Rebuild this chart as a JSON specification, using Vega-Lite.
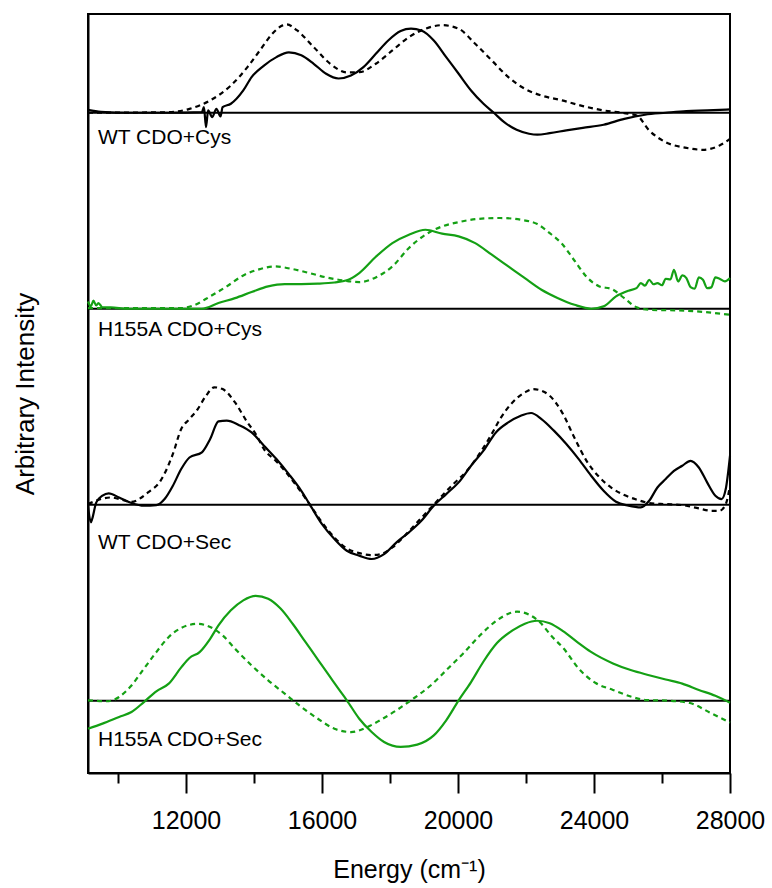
{
  "$schema": "https://vega.github.io/schema/vega-lite/v6.json",
  "width": 642,
  "height": 759,
  "autosize": {"type": "none"},
  "padding": {"left": 88, "top": 14, "right": 42, "bottom": 115},
  "config": {
    "font": "Liberation Sans",
    "view": {"stroke": "black", "strokeWidth": 2},
    "line": {"interpolate": "monotone", "strokeWidth": 2.2},
    "axis": {"grid": false, "domainColor": "black", "domainWidth": 2, "tickColor": "black", "tickWidth": 2, "labelColor": "black", "titleColor": "black", "labelFont": "Liberation Sans", "titleFont": "Liberation Sans", "labelFontSize": 25, "titleFontSize": 25, "titleFontWeight": "normal"},
    "axisY": {"labels": false, "ticks": false, "titlePadding": 50, "titleFontSize": 26}
  },
  "datasets": {
    "bases": [{"y": 0}, {"y": 1}, {"y": 2}, {"y": 3}],
    "labels": [
      {"label": "WT CDO+Cys", "x": 9412, "y": 2.873},
      {"label": "H155A CDO+Cys", "x": 9412, "y": 1.894},
      {"label": "WT CDO+Sec", "x": 9412, "y": 0.807},
      {"label": "H155A CDO+Sec", "x": 9412, "y": -0.203}
    ],
    "wtCysSolid": [
      {"x":9118,"y":3.015},{"x":9500,"y":3.005},{"x":10275,"y":3.0},{"x":11493,"y":3.0},{"x":12468,"y":3.003},{"x":12528,"y":3.029},{"x":12589,"y":2.927},{"x":12650,"y":3.012},{"x":12772,"y":2.978},{"x":12894,"y":3.02},{"x":13016,"y":2.981},{"x":13077,"y":3.029},{"x":13320,"y":3.046},{"x":13685,"y":3.114},{"x":13929,"y":3.182},{"x":14294,"y":3.241},{"x":14660,"y":3.284},{"x":15025,"y":3.308},{"x":15391,"y":3.293},{"x":15756,"y":3.25},{"x":16121,"y":3.199},{"x":16487,"y":3.175},{"x":16852,"y":3.19},{"x":17218,"y":3.233},{"x":17583,"y":3.301},{"x":17948,"y":3.369},{"x":18314,"y":3.417},{"x":18618,"y":3.429},{"x":18923,"y":3.42},{"x":19288,"y":3.369},{"x":19653,"y":3.284},{"x":20019,"y":3.199},{"x":20384,"y":3.114},{"x":20750,"y":3.046},{"x":21054,"y":3.0},{"x":21359,"y":2.952},{"x":21724,"y":2.913},{"x":22089,"y":2.893},{"x":22333,"y":2.888},{"x":22698,"y":2.896},{"x":23186,"y":2.91},{"x":23673,"y":2.923},{"x":24282,"y":2.939},{"x":24891,"y":2.969},{"x":25500,"y":2.99},{"x":26109,"y":3.0},{"x":26718,"y":3.009},{"x":27327,"y":3.012},{"x":28000,"y":3.017}
    ],
    "wtCysDashed": [
      {"x":9118,"y":3.0},{"x":11493,"y":3.003},{"x":12102,"y":3.02},{"x":12711,"y":3.063},{"x":13320,"y":3.139},{"x":13807,"y":3.233},{"x":14172,"y":3.318},{"x":14538,"y":3.403},{"x":14842,"y":3.446},{"x":14964,"y":3.451},{"x":15269,"y":3.42},{"x":15756,"y":3.335},{"x":16243,"y":3.25},{"x":16730,"y":3.206},{"x":17096,"y":3.207},{"x":17583,"y":3.25},{"x":18070,"y":3.318},{"x":18557,"y":3.386},{"x":19044,"y":3.429},{"x":19532,"y":3.447},{"x":20019,"y":3.429},{"x":20506,"y":3.352},{"x":20993,"y":3.267},{"x":21480,"y":3.182},{"x":21967,"y":3.122},{"x":22455,"y":3.088},{"x":23064,"y":3.063},{"x":23673,"y":3.034},{"x":24282,"y":3.012},{"x":24891,"y":2.998},{"x":25256,"y":2.986},{"x":25622,"y":2.91},{"x":26109,"y":2.85},{"x":26718,"y":2.821},{"x":27205,"y":2.811},{"x":27692,"y":2.833},{"x":28000,"y":2.867}
    ],
    "hCysSolid": [
      {"x":9118,"y":2.037},{"x":9203,"y":2.012},{"x":9276,"y":2.041},{"x":9362,"y":2.017},{"x":9423,"y":2.029},{"x":9544,"y":2.007},{"x":9788,"y":2.007},{"x":10275,"y":2.0},{"x":12468,"y":2.0},{"x":12955,"y":2.029},{"x":13442,"y":2.054},{"x":13929,"y":2.085},{"x":14416,"y":2.114},{"x":14903,"y":2.126},{"x":15391,"y":2.126},{"x":15878,"y":2.128},{"x":16365,"y":2.134},{"x":16730,"y":2.145},{"x":17096,"y":2.182},{"x":17583,"y":2.265},{"x":18070,"y":2.335},{"x":18557,"y":2.378},{"x":19044,"y":2.403},{"x":19532,"y":2.383},{"x":20019,"y":2.369},{"x":20506,"y":2.335},{"x":20993,"y":2.276},{"x":21480,"y":2.216},{"x":21967,"y":2.156},{"x":22455,"y":2.097},{"x":22942,"y":2.054},{"x":23429,"y":2.02},{"x":23916,"y":2.0},{"x":24282,"y":2.012},{"x":24647,"y":2.063},{"x":25013,"y":2.092},{"x":25250,"y":2.105},{"x":25378,"y":2.131},{"x":25500,"y":2.118},{"x":25622,"y":2.148},{"x":25750,"y":2.125},{"x":25865,"y":2.131},{"x":26000,"y":2.12},{"x":26109,"y":2.153},{"x":26250,"y":2.15},{"x":26352,"y":2.199},{"x":26474,"y":2.139},{"x":26600,"y":2.17},{"x":26718,"y":2.156},{"x":26840,"y":2.11},{"x":26961,"y":2.102},{"x":27083,"y":2.16},{"x":27205,"y":2.148},{"x":27330,"y":2.105},{"x":27449,"y":2.109},{"x":27570,"y":2.16},{"x":27692,"y":2.153},{"x":27850,"y":2.14},{"x":28000,"y":2.156}
    ],
    "hCysDashed": [
      {"x":9118,"y":2.003},{"x":11859,"y":2.003},{"x":12224,"y":2.017},{"x":12711,"y":2.063},{"x":13198,"y":2.114},{"x":13685,"y":2.17},{"x":14172,"y":2.202},{"x":14599,"y":2.216},{"x":15147,"y":2.202},{"x":15634,"y":2.182},{"x":16121,"y":2.16},{"x":16609,"y":2.145},{"x":17096,"y":2.136},{"x":17583,"y":2.16},{"x":18070,"y":2.216},{"x":18557,"y":2.31},{"x":19044,"y":2.378},{"x":19532,"y":2.42},{"x":20019,"y":2.442},{"x":20628,"y":2.459},{"x":21237,"y":2.463},{"x":21846,"y":2.454},{"x":22333,"y":2.432},{"x":22698,"y":2.386},{"x":23064,"y":2.33},{"x":23429,"y":2.245},{"x":23795,"y":2.16},{"x":24160,"y":2.114},{"x":24525,"y":2.1},{"x":24891,"y":2.054},{"x":25256,"y":2.007},{"x":25622,"y":1.995},{"x":26718,"y":1.99},{"x":28000,"y":1.969}
    ],
    "wtSecSolid": [
      {"x":9118,"y":0.995},{"x":9203,"y":0.91},{"x":9240,"y":0.927},{"x":9362,"y":1.012},{"x":9544,"y":1.046},{"x":9727,"y":1.058},{"x":10032,"y":1.037},{"x":10397,"y":1.009},{"x":10762,"y":0.995},{"x":11128,"y":0.998},{"x":11371,"y":1.029},{"x":11615,"y":1.097},{"x":11859,"y":1.182},{"x":12102,"y":1.241},{"x":12468,"y":1.267},{"x":12711,"y":1.335},{"x":12955,"y":1.425},{"x":13198,"y":1.429},{"x":13564,"y":1.406},{"x":13929,"y":1.369},{"x":14294,"y":1.301},{"x":14660,"y":1.233},{"x":15025,"y":1.156},{"x":15391,"y":1.071},{"x":15634,"y":1.003},{"x":16000,"y":0.901},{"x":16365,"y":0.825},{"x":16730,"y":0.765},{"x":17096,"y":0.74},{"x":17461,"y":0.723},{"x":17826,"y":0.748},{"x":18192,"y":0.808},{"x":18557,"y":0.859},{"x":18923,"y":0.918},{"x":19288,"y":0.995},{"x":19653,"y":1.054},{"x":20019,"y":1.114},{"x":20384,"y":1.199},{"x":20750,"y":1.276},{"x":21115,"y":1.369},{"x":21480,"y":1.42},{"x":21846,"y":1.454},{"x":22150,"y":1.468},{"x":22455,"y":1.437},{"x":22820,"y":1.378},{"x":23186,"y":1.31},{"x":23551,"y":1.233},{"x":23916,"y":1.148},{"x":24282,"y":1.071},{"x":24647,"y":1.015},{"x":25013,"y":0.995},{"x":25378,"y":0.986},{"x":25622,"y":1.02},{"x":25865,"y":1.088},{"x":26109,"y":1.131},{"x":26352,"y":1.173},{"x":26596,"y":1.199},{"x":26840,"y":1.224},{"x":27083,"y":1.19},{"x":27327,"y":1.114},{"x":27570,"y":1.046},{"x":27753,"y":1.029},{"x":27875,"y":1.08},{"x":28000,"y":1.25}
    ],
    "wtSecDashed": [
      {"x":9118,"y":1.003},{"x":9788,"y":1.037},{"x":10397,"y":1.015},{"x":10884,"y":1.063},{"x":11250,"y":1.122},{"x":11615,"y":1.259},{"x":11859,"y":1.386},{"x":12102,"y":1.437},{"x":12346,"y":1.488},{"x":12589,"y":1.556},{"x":12833,"y":1.599},{"x":13077,"y":1.59},{"x":13442,"y":1.522},{"x":13807,"y":1.42},{"x":14051,"y":1.361},{"x":14294,"y":1.284},{"x":14660,"y":1.221},{"x":15025,"y":1.148},{"x":15391,"y":1.063},{"x":15634,"y":1.003},{"x":16000,"y":0.91},{"x":16365,"y":0.833},{"x":16730,"y":0.777},{"x":17096,"y":0.753},{"x":17461,"y":0.743},{"x":17705,"y":0.747},{"x":18070,"y":0.782},{"x":18435,"y":0.842},{"x":18801,"y":0.91},{"x":19166,"y":0.978},{"x":19532,"y":1.046},{"x":19897,"y":1.111},{"x":20262,"y":1.173},{"x":20628,"y":1.259},{"x":20993,"y":1.361},{"x":21237,"y":1.437},{"x":21602,"y":1.522},{"x":21967,"y":1.573},{"x":22211,"y":1.59},{"x":22455,"y":1.582},{"x":22698,"y":1.556},{"x":23064,"y":1.47},{"x":23429,"y":1.34},{"x":23795,"y":1.22},{"x":24160,"y":1.14},{"x":24525,"y":1.085},{"x":24891,"y":1.049},{"x":25256,"y":1.026},{"x":25622,"y":1.009},{"x":26109,"y":1.003},{"x":26596,"y":0.998},{"x":27083,"y":0.981},{"x":27449,"y":0.969},{"x":27692,"y":0.969},{"x":27875,"y":1.003},{"x":28000,"y":1.097}
    ],
    "hSecSolid": [
      {"x":9118,"y":-0.143},{"x":9544,"y":-0.117},{"x":10032,"y":-0.083},{"x":10397,"y":-0.058},{"x":10762,"y":-0.007},{"x":11128,"y":0.048},{"x":11493,"y":0.087},{"x":11859,"y":0.17},{"x":12102,"y":0.218},{"x":12400,"y":0.248},{"x":12711,"y":0.316},{"x":12955,"y":0.384},{"x":13320,"y":0.461},{"x":13685,"y":0.512},{"x":14051,"y":0.535},{"x":14416,"y":0.52},{"x":14781,"y":0.47},{"x":15147,"y":0.39},{"x":15512,"y":0.3},{"x":15878,"y":0.21},{"x":16243,"y":0.12},{"x":16487,"y":0.06},{"x":16730,"y":0.002},{"x":17096,"y":-0.092},{"x":17461,"y":-0.16},{"x":17826,"y":-0.211},{"x":18314,"y":-0.236},{"x":18801,"y":-0.224},{"x":19288,"y":-0.177},{"x":19653,"y":-0.1},{"x":20019,"y":0.002},{"x":20384,"y":0.095},{"x":20750,"y":0.2},{"x":21146,"y":0.294},{"x":21617,"y":0.36},{"x":21967,"y":0.393},{"x":22323,"y":0.408},{"x":22698,"y":0.395},{"x":23088,"y":0.355},{"x":23500,"y":0.3},{"x":23900,"y":0.25},{"x":24558,"y":0.19},{"x":25100,"y":0.155},{"x":25622,"y":0.13},{"x":26109,"y":0.108},{"x":26596,"y":0.087},{"x":27083,"y":0.055},{"x":27570,"y":0.025},{"x":28000,"y":-0.01}
    ],
    "hSecDashed": [
      {"x":9118,"y":0.002},{"x":9666,"y":-0.003},{"x":10032,"y":0.019},{"x":10397,"y":0.078},{"x":10762,"y":0.163},{"x":11128,"y":0.248},{"x":11493,"y":0.325},{"x":11859,"y":0.371},{"x":12346,"y":0.392},{"x":12711,"y":0.376},{"x":13077,"y":0.333},{"x":13442,"y":0.265},{"x":13929,"y":0.18},{"x":14416,"y":0.104},{"x":14903,"y":0.036},{"x":15391,"y":-0.032},{"x":15878,"y":-0.092},{"x":16365,"y":-0.143},{"x":16852,"y":-0.16},{"x":17339,"y":-0.134},{"x":17705,"y":-0.1},{"x":18200,"y":-0.048},{"x":18600,"y":0.0},{"x":19176,"y":0.075},{"x":19653,"y":0.155},{"x":20147,"y":0.24},{"x":20628,"y":0.33},{"x":21146,"y":0.41},{"x":21500,"y":0.445},{"x":21735,"y":0.454},{"x":22080,"y":0.44},{"x":22411,"y":0.4},{"x":22750,"y":0.33},{"x":23088,"y":0.27},{"x":23588,"y":0.156},{"x":24050,"y":0.09},{"x":24558,"y":0.055},{"x":25100,"y":0.02},{"x":25558,"y":0.003},{"x":26200,"y":0.0},{"x":26823,"y":-0.012},{"x":27400,"y":-0.06},{"x":28000,"y":-0.112}
    ]
  },
  "resolve": {"axis": {"x": "independent"}},
  "layer": [
    {
      "data": {"name": "bases"},
      "mark": {"type": "rule", "color": "black", "strokeWidth": 2},
      "encoding": {
        "y": {"field": "y", "type": "quantitative", "scale": {"domain": [-0.369, 3.504], "nice": false, "zero": false}, "title": "Arbitrary Intensity"}
      }
    },
    {
      "data": {"name": "wtCysSolid"},
      "mark": {"type": "line", "color": "black"},
      "encoding": {
        "x": {"field": "x", "type": "quantitative", "scale": {"domain": [9118, 28000], "nice": false, "zero": false}, "axis": {"orient": "bottom", "values": [10000, 14000, 18000, 22000, 26000], "labels": false, "domain": false, "tickSize": 10, "title": null}},
        "y": {"field": "y", "type": "quantitative", "scale": {"domain": [-0.369, 3.504], "nice": false, "zero": false}, "title": "Arbitrary Intensity"}
      }
    },
    {
      "data": {"name": "wtCysDashed"},
      "mark": {"type": "line", "color": "black", "strokeDash": [5, 4]},
      "encoding": {
        "x": {"field": "x", "type": "quantitative", "scale": {"domain": [9118, 28000], "nice": false, "zero": false}, "axis": {"orient": "bottom", "values": [12000, 16000, 20000, 24000, 28000], "format": "d", "tickSize": 20, "labelPadding": 15, "labelFlush": false, "labelOverlap": false, "title": "Energy (cm⁻¹)", "titlePadding": 24}},
        "y": {"field": "y", "type": "quantitative", "scale": {"domain": [-0.369, 3.504], "nice": false, "zero": false}, "title": "Arbitrary Intensity"}
      }
    },
    {
      "data": {"name": "hCysSolid"},
      "mark": {"type": "line", "color": "#14a014"},
      "encoding": {
        "x": {"field": "x", "type": "quantitative", "scale": {"domain": [9118, 28000], "nice": false, "zero": false}, "axis": null},
        "y": {"field": "y", "type": "quantitative", "scale": {"domain": [-0.369, 3.504], "nice": false, "zero": false}, "title": "Arbitrary Intensity"}
      }
    },
    {
      "data": {"name": "hCysDashed"},
      "mark": {"type": "line", "color": "#14a014", "strokeDash": [5, 4]},
      "encoding": {
        "x": {"field": "x", "type": "quantitative", "scale": {"domain": [9118, 28000], "nice": false, "zero": false}, "axis": null},
        "y": {"field": "y", "type": "quantitative", "scale": {"domain": [-0.369, 3.504], "nice": false, "zero": false}, "title": "Arbitrary Intensity"}
      }
    },
    {
      "data": {"name": "wtSecSolid"},
      "mark": {"type": "line", "color": "black"},
      "encoding": {
        "x": {"field": "x", "type": "quantitative", "scale": {"domain": [9118, 28000], "nice": false, "zero": false}, "axis": null},
        "y": {"field": "y", "type": "quantitative", "scale": {"domain": [-0.369, 3.504], "nice": false, "zero": false}, "title": "Arbitrary Intensity"}
      }
    },
    {
      "data": {"name": "wtSecDashed"},
      "mark": {"type": "line", "color": "black", "strokeDash": [5, 4]},
      "encoding": {
        "x": {"field": "x", "type": "quantitative", "scale": {"domain": [9118, 28000], "nice": false, "zero": false}, "axis": null},
        "y": {"field": "y", "type": "quantitative", "scale": {"domain": [-0.369, 3.504], "nice": false, "zero": false}, "title": "Arbitrary Intensity"}
      }
    },
    {
      "data": {"name": "hSecSolid"},
      "mark": {"type": "line", "color": "#14a014"},
      "encoding": {
        "x": {"field": "x", "type": "quantitative", "scale": {"domain": [9118, 28000], "nice": false, "zero": false}, "axis": null},
        "y": {"field": "y", "type": "quantitative", "scale": {"domain": [-0.369, 3.504], "nice": false, "zero": false}, "title": "Arbitrary Intensity"}
      }
    },
    {
      "data": {"name": "hSecDashed"},
      "mark": {"type": "line", "color": "#14a014", "strokeDash": [5, 4]},
      "encoding": {
        "x": {"field": "x", "type": "quantitative", "scale": {"domain": [9118, 28000], "nice": false, "zero": false}, "axis": null},
        "y": {"field": "y", "type": "quantitative", "scale": {"domain": [-0.369, 3.504], "nice": false, "zero": false}, "title": "Arbitrary Intensity"}
      }
    },
    {
      "data": {"name": "labels"},
      "mark": {"type": "text", "align": "left", "baseline": "middle", "fontSize": 21, "color": "black", "font": "Liberation Sans"},
      "encoding": {
        "x": {"field": "x", "type": "quantitative", "scale": {"domain": [9118, 28000], "nice": false, "zero": false}, "axis": null},
        "y": {"field": "y", "type": "quantitative", "scale": {"domain": [-0.369, 3.504], "nice": false, "zero": false}, "title": "Arbitrary Intensity"},
        "text": {"field": "label"}
      }
    }
  ]
}
